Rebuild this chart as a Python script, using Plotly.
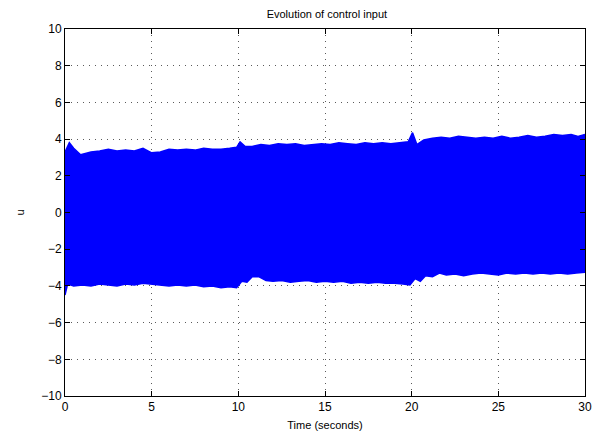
import plotly.graph_objects as go

# Envelope of the (densely oscillating) control input
t_upper = [0, 0.25, 0.5, 0.9, 1.5, 2, 2.5, 3, 3.5, 4, 4.5, 5, 5.5, 6, 6.5, 7, 7.5, 8, 8.5, 9, 9.5, 9.9,
           10.1, 10.4, 10.8, 11.3, 11.8, 12.3, 12.8, 13.3, 13.8, 14.3, 14.8, 15.3, 15.8, 16.3, 16.8,
           17.3, 17.8, 18.3, 18.8, 19.3, 19.8, 20.05, 20.3, 20.7, 21.2, 21.7, 22.2, 22.7, 23.2, 23.7,
           24.2, 24.7, 25.2, 25.7, 26.2, 26.7, 27.2, 27.7, 28.2, 28.7, 29.2, 29.6, 30]
u_upper = [3.3, 3.8, 3.5, 3.15, 3.3, 3.35, 3.45, 3.35, 3.4, 3.35, 3.5, 3.25, 3.3, 3.45, 3.4, 3.45, 3.4,
           3.5, 3.45, 3.45, 3.5, 3.55, 3.85, 3.6, 3.6, 3.7, 3.65, 3.75, 3.7, 3.75, 3.65, 3.7, 3.75, 3.7,
           3.8, 3.75, 3.7, 3.8, 3.75, 3.8, 3.75, 3.8, 3.85, 4.35, 3.7, 3.95, 4.05, 4.1, 4.05, 4.15, 4.1,
           4.05, 4.1, 4.05, 4.15, 4.05, 4.1, 4.2, 4.1, 4.15, 4.25, 4.2, 4.25, 4.15, 4.25]

t_lower = [0, 0.15, 0.5, 1, 1.5, 2, 2.5, 3, 3.5, 4, 4.5, 5, 5.5, 6, 6.5, 7, 7.5, 8, 8.5, 9, 9.5, 9.9,
           10.2, 10.5, 10.8, 11.2, 11.6, 12, 12.5, 13, 13.5, 14, 14.5, 15, 15.5, 16, 16.5, 17, 17.5,
           18, 18.5, 19, 19.5, 19.9, 20.2, 20.5, 20.8, 21.2, 21.6, 22, 22.5, 23, 23.5, 24, 24.5, 25,
           25.5, 26, 26.5, 27, 27.5, 28, 28.5, 29, 29.5, 30]
u_lower = [-4.5, -3.9, -4.0, -3.95, -4.0, -3.9, -3.95, -4.0, -3.9, -3.95, -3.85, -3.9, -3.95, -4.0,
           -3.95, -4.0, -3.95, -4.05, -4.0, -4.1, -4.05, -4.1, -3.75, -3.8, -3.5, -3.5, -3.7, -3.75,
           -3.7, -3.8, -3.75, -3.7, -3.8, -3.75, -3.8, -3.75, -3.85, -3.8, -3.85, -3.8, -3.85, -3.85,
           -3.9, -3.95, -3.6, -3.75, -3.45, -3.5, -3.3, -3.4, -3.35, -3.45, -3.35, -3.3, -3.35, -3.4,
           -3.3, -3.35, -3.3, -3.35, -3.3, -3.35, -3.3, -3.35, -3.3, -3.25]

x_ticks = [0, 5, 10, 15, 20, 25, 30]
y_ticks = [-10, -8, -6, -4, -2, 0, 2, 4, 6, 8, 10]

blue = "rgb(0,0,255)"
fig = go.Figure()
fig.add_trace(go.Scatter(x=t_lower, y=u_lower, mode="lines",
                         line=dict(color=blue, width=1.5), hoverinfo="skip",
                         showlegend=False))
fig.add_trace(go.Scatter(x=t_upper, y=u_upper, mode="lines", fill="tonexty", fillcolor=blue,
                         line=dict(color=blue, width=1.5), showlegend=False))

axis_common = dict(showline=True, linecolor="black", linewidth=1, mirror="ticks",
                   ticks="inside", ticklen=5, tickcolor="black", showgrid=True,
                   gridcolor="rgb(90,90,90)", griddash="1px,5px", gridwidth=1, zeroline=False,
                   tickfont=dict(size=12, color="black"))
fig.update_xaxes(range=[0, 30], tickvals=x_ticks, **axis_common,
                 title=dict(text="Time (seconds)", font=dict(size=11, color="black"), standoff=7))
fig.update_yaxes(range=[-10, 10], tickvals=y_ticks, **axis_common,
                 title=dict(text="u", font=dict(size=11, color="black"), standoff=14))

fig.update_layout(
    width=596, height=433,
    margin=dict(l=52, r=17, t=21, b=42),
    paper_bgcolor="white", plot_bgcolor="white",
    font=dict(family="Liberation Sans, Arial, Helvetica, sans-serif", color="black"),
    title=dict(text="Evolution of control input", x=0.535, xanchor="center", y=0.986,
               yanchor="middle", font=dict(size=11, color="black")),
)

fig.write_html("out.html")
